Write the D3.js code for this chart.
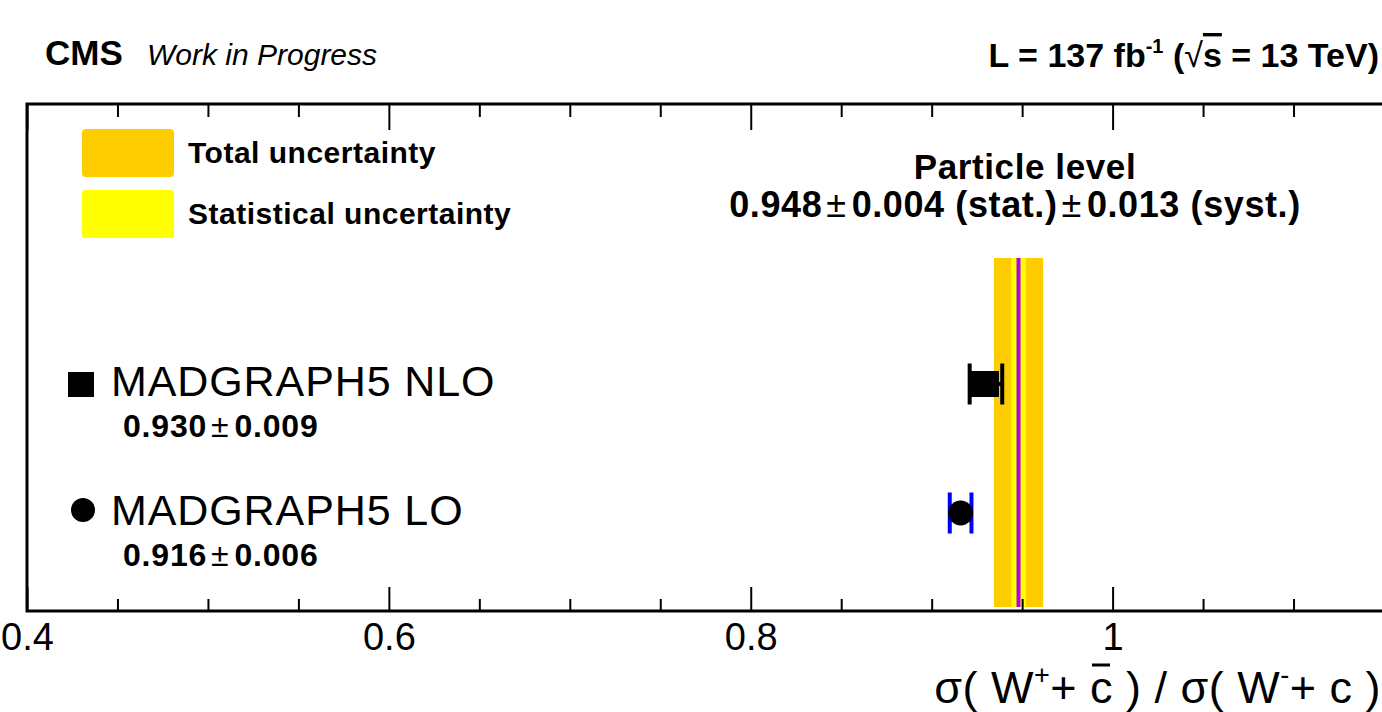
<!DOCTYPE html>
<html>
<head>
<meta charset="utf-8">
<script src="https://cdn.jsdelivr.net/npm/d3@7"></script>
<style>
  body { margin: 0; background: #fff; }
  svg { display: block; font-family: "Liberation Sans", Arial, Helvetica, sans-serif; }
</style>
</head>
<body>
<div class="canvas"></div>
<script>
// data
const models = ['MADGRAPH5 NLO', 'MADGRAPH5 LO'];
const modelValues = [0.930, 0.916];
const modelErrors = [0.009, 0.006];
const modelLabels = ['0.930', '0.916'];
const modelErrLabels = ['0.009', '0.006'];
const measured = 0.948;
const statErr = 0.004;
const systErr = 0.013;
const majorTicks = [0.4, 0.6, 0.8, 1.0];
const minorTicks = d3.range(0.45, 1.15, 0.05).filter(v => !majorTicks.some(m => Math.abs(m - v) < 1e-6));
const legendLabels = ['Total uncertainty', 'Statistical uncertainty'];

const totalErr = Math.sqrt(statErr * statErr + systErr * systErr);

//append svg
const svg = d3.select('.canvas')
  .append('svg')
  .attr('width', 1382)
  .attr('height', 712);

// frame geometry
const frame = { left: 27, right: 1384, top: 104, bottom: 611 };

const x = d3.scaleLinear()
  .domain([0.4, 1.15])
  .range([frame.left, frame.right]);

const y = d3.scalePoint()
  .domain(models)
  .range([384, 513]);

// uncertainty bands
const bandTop = 258, bandBottom = 607;
svg.append('rect')
  .attr('x', x(measured - totalErr))
  .attr('y', bandTop)
  .attr('width', x(measured + totalErr) - x(measured - totalErr))
  .attr('height', bandBottom - bandTop)
  .attr('fill', '#ffcc00');
svg.append('rect')
  .attr('x', x(measured - statErr))
  .attr('y', bandTop)
  .attr('width', x(measured + statErr) - x(measured - statErr))
  .attr('height', bandBottom - bandTop)
  .attr('fill', '#ffff00');
svg.append('line')
  .attr('x1', x(measured)).attr('x2', x(measured))
  .attr('y1', bandTop).attr('y2', bandBottom)
  .attr('stroke', '#b000f0')
  .attr('stroke-width', 4);

// axes
const xAxisMajor = d3.axisBottom(x)
  .tickValues(majorTicks)
  .tickSize(-24)
  .tickPadding(12)
  .tickFormat(d => d === 1 ? '1' : d3.format('.1f')(d));
const xAxisMinor = d3.axisBottom(x)
  .tickValues(minorTicks)
  .tickSize(-12)
  .tickFormat('');
const topMajor = d3.axisTop(x).tickValues(majorTicks).tickSize(-26).tickFormat('');
const topMinor = d3.axisTop(x).tickValues(minorTicks).tickSize(-13).tickFormat('');

const xAxisGroup = svg.append('g').attr('transform', `translate(0, ${frame.bottom})`);
xAxisGroup.call(xAxisMajor);
svg.append('g').attr('transform', `translate(0, ${frame.bottom})`).call(xAxisMinor);
svg.append('g').attr('transform', `translate(0, ${frame.top})`).call(topMajor);
svg.append('g').attr('transform', `translate(0, ${frame.top})`).call(topMinor);

svg.selectAll('.domain').remove();
svg.selectAll('.tick line').attr('stroke', '#000').attr('stroke-width', 2);
xAxisGroup.selectAll('text')
  .attr('fill', '#000')
  .style('font-size', '38px')
  .style('font-family', '"Liberation Sans", Arial, sans-serif');

// frame
svg.append('rect')
  .attr('x', frame.left)
  .attr('y', frame.top)
  .attr('width', frame.right - frame.left)
  .attr('height', frame.bottom - frame.top)
  .attr('fill', 'none')
  .attr('stroke', '#000')
  .attr('stroke-width', 3);

// model points with error bars
const capH = 41;
const pts = svg.selectAll('.pt')
  .data(models)
  .enter()
  .append('g')
  .attr('class', 'pt');

pts.append('line')
  .attr('x1', (d, i) => x(modelValues[i] - modelErrors[i]))
  .attr('x2', (d, i) => x(modelValues[i] + modelErrors[i]))
  .attr('y1', d => y(d)).attr('y2', d => y(d))
  .attr('stroke', (d, i) => i === 0 ? '#000' : '#0000ff')
  .attr('stroke-width', 4);

[-1, 1].forEach(s => {
  pts.append('line')
    .attr('x1', (d, i) => x(modelValues[i] + s * modelErrors[i]))
    .attr('x2', (d, i) => x(modelValues[i] + s * modelErrors[i]))
    .attr('y1', d => y(d) - capH / 2)
    .attr('y2', d => y(d) + capH / 2)
    .attr('stroke', (d, i) => i === 0 ? '#000' : '#0000ff')
    .attr('stroke-width', 4);
});

pts.filter((d, i) => i === 0).append('rect')
  .attr('x', d => x(modelValues[0]) - 16)
  .attr('y', d => y(d) - 13)
  .attr('width', 29)
  .attr('height', 26)
  .attr('fill', '#000');
pts.filter((d, i) => i === 1).append('circle')
  .attr('cx', d => x(modelValues[1]))
  .attr('cy', d => y(d))
  .attr('r', 12.5)
  .attr('fill', '#000');

// model labels on the left
const lab = svg.selectAll('.lab')
  .data(models)
  .enter()
  .append('g')
  .attr('class', 'lab');

lab.filter((d, i) => i === 0).append('rect')
  .attr('x', 68).attr('y', d => y(d) - 12)
  .attr('width', 26).attr('height', 25)
  .attr('fill', '#000');
lab.filter((d, i) => i === 1).append('circle')
  .attr('cx', 83).attr('cy', d => y(d) - 3)
  .attr('r', 12)
  .attr('fill', '#000');

lab.append('text')
  .attr('x', 111)
  .attr('y', d => y(d) + 12)
  .style('font-size', '43px')
  .style('letter-spacing', '0.9px')
  .text(d => d);

const valText = lab.append('text')
  .attr('x', 123)
  .attr('y', d => y(d) + 53)
  .style('font-size', '32px')
  .style('font-weight', 'bold')
  .style('letter-spacing', '0.8px');
valText.append('tspan').text((d, i) => modelLabels[i]);
valText.append('tspan').attr('dx', 4).style('font-weight', 'normal').text('±');
valText.append('tspan').attr('dx', 5).text((d, i) => modelErrLabels[i]);

// legend
const legendColors = ['#ffcc00', '#ffff00'];
const legend = svg.selectAll('.leg')
  .data(legendLabels)
  .enter()
  .append('g')
  .attr('class', 'leg')
  .attr('transform', (d, i) => `translate(82, ${129 + i * 61})`);
legend.append('rect')
  .attr('width', 92).attr('height', 48)
  .attr('rx', 4)
  .attr('fill', (d, i) => legendColors[i]);
legend.append('text')
  .attr('x', 106)
  .attr('y', 34)
  .style('font-size', '30px')
  .style('font-weight', 'bold')
  .style('letter-spacing', '0.5px')
  .text(d => d);

// measurement text
svg.append('text')
  .attr('x', 1025).attr('y', 179)
  .attr('text-anchor', 'middle')
  .style('font-size', '35px')
  .style('font-weight', 'bold')
  .style('letter-spacing', '0.6px')
  .text('Particle level');
const meas = svg.append('text')
  .attr('x', 1015).attr('y', 217)
  .attr('text-anchor', 'middle')
  .style('font-size', '36px')
  .style('font-weight', 'bold')
  .style('letter-spacing', '0.6px');
meas.append('tspan').text(d3.format('.3f')(measured));
meas.append('tspan').attr('dx', 4).style('font-weight', 'normal').text('±');
meas.append('tspan').attr('dx', 5).text(`${d3.format('.3f')(statErr)} (stat.)`);
meas.append('tspan').attr('dx', 4).style('font-weight', 'normal').text('±');
meas.append('tspan').attr('dx', 5).text(`${d3.format('.3f')(systErr)} (syst.)`);

// header
svg.append('text')
  .attr('x', 45).attr('y', 65)
  .style('font-size', '35px')
  .style('font-weight', 'bold')
  .text('CMS');
svg.append('text')
  .attr('x', 147).attr('y', 65)
  .style('font-size', '30px')
  .style('font-style', 'italic')
  .text('Work in Progress');

const lumi = svg.append('text')
  .attr('x', 1379).attr('y', 67)
  .attr('text-anchor', 'end')
  .style('font-size', '34px')
  .style('font-weight', 'bold');
lumi.append('tspan').text('L = 137 fb');
lumi.append('tspan').attr('dy', -14).style('font-size', '20px').text('-1');
lumi.append('tspan').attr('dy', 14).text(' (');
lumi.append('tspan').style('font-weight', 'normal').text('√');
lumi.append('tspan').style('text-decoration', 'overline').text('s');
lumi.append('tspan').text(' = 13 TeV)');

// x axis title
const title = svg.append('text')
  .attr('x', 1381).attr('y', 703)
  .attr('text-anchor', 'end')
  .style('font-size', '45px')
  .style('letter-spacing', '0.5px');
title.append('tspan').text('σ( W');
title.append('tspan').attr('dy', -19).style('font-size', '27px').text('+');
title.append('tspan').attr('dy', 19).text('+ ');
title.append('tspan').text('c');
title.append('tspan').text(' ) / σ( W');
title.append('tspan').attr('dy', -19).style('font-size', '27px').text('-');
title.append('tspan').attr('dy', 19).text('+ c )');

// bar over the anti-charm
const cBox = title.node().getExtentOfChar(7);
svg.append('line')
  .attr('x1', cBox.x + 2)
  .attr('x2', cBox.x + cBox.width - 3)
  .attr('y1', 665).attr('y2', 665)
  .attr('stroke', '#000')
  .attr('stroke-width', 3);
</script>
</body>
</html>
